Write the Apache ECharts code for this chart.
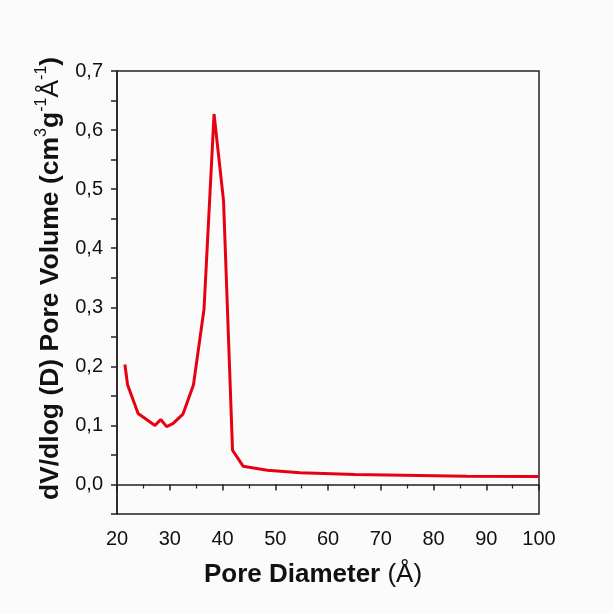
<!DOCTYPE html>
<html>
<head>
<meta charset="utf-8">
<script src="https://cdn.jsdelivr.net/npm/echarts@6/dist/echarts.min.js"></script>
<style>html,body{margin:0;padding:0;background:#fbfbfb;}#c{width:613px;height:614px;}</style>
</head>
<body>
<div id="c"></div>
<script>
const poreDiameter = [21.5, 22.0, 24.0, 27.2, 28.3, 29.4, 30.6, 32.5, 34.5, 36.5, 38.4, 40.2, 41.9, 43.9, 48.5, 54.7, 65.1, 86.3, 100.0];
const poreVolume   = [0.203, 0.169, 0.120, 0.100, 0.110, 0.098, 0.103, 0.119, 0.169, 0.297, 0.627, 0.480, 0.058, 0.031, 0.024, 0.020, 0.017, 0.014, 0.0136];
const xTicks = [20, 30, 40, 50, 60, 70, 80, 90, 100];
const yTicks = [0.0, 0.1, 0.2, 0.3, 0.4, 0.5, 0.6, 0.7];

const chart = echarts.init(document.getElementById('c'), null, {renderer: 'canvas'});
const font = 'Liberation Sans, Arial, sans-serif';
chart.setOption({
  backgroundColor: '#fbfbfb',
  animation: false,
  grid: {left: 117, right: 74, top: 71, bottom: 100, show: true, borderColor: '#222', borderWidth: 1.5, backgroundColor: 'transparent'},
  xAxis: {
    type: 'value', min: 20, max: 100, interval: 10,
    axisLine: {lineStyle: {color: '#222', width: 1.5}},
    axisTick: {length: 6, inside: false, lineStyle: {color: '#222', width: 1.5}},
    minorTick: {show: true, splitNumber: 2, length: 4, lineStyle: {color: '#222', width: 1.2}},
    splitLine: {show: false},
    axisLabel: {color: '#111', fontFamily: font, fontSize: 20, margin: 15,
      formatter: v => xTicks.includes(v) ? String(v) : ''},
    name: '{b|Pore Diameter }{n|(Å)}',
    nameLocation: 'middle', nameGap: 47,
    nameTextStyle: {padding: [0, 30, 0, 0], rich: {
      b: {fontFamily: font, fontWeight: 'bold', fontSize: 26, color: '#111', lineHeight: 28},
      n: {fontFamily: font, fontWeight: 'normal', fontSize: 26, color: '#111', lineHeight: 28}
    }}
  },
  yAxis: {
    type: 'value', min: -0.05, max: 0.7, interval: 0.05,
    axisLine: {lineStyle: {color: '#222', width: 1.5}},
    axisTick: {length: 6, lineStyle: {color: '#222', width: 1.5}},
    splitLine: {show: false},
    axisLabel: {color: '#111', fontFamily: font, fontSize: 20, margin: 14,
      formatter: v => {
        const r = Math.round(v * 100) / 100;
        const hit = yTicks.find(t => Math.abs(t - r) < 1e-9);
        return hit !== undefined ? hit.toFixed(1).replace('.', ',') : '';
      }},
    name: '{b|dV/dlog (D) Pore Volume (cm}{s|3}{b|g}{s|-1}{n|Å}{s|-1}{b|)}',
    nameLocation: 'middle', nameGap: 50, nameRotate: 90,
    nameTextStyle: {padding: [0, 0, 0, 28], rich: {
      b: {fontFamily: font, fontWeight: 'bold', fontSize: 26.5, color: '#111', lineHeight: 31, verticalAlign: 'bottom'},
      n: {fontFamily: font, fontWeight: 'normal', fontSize: 26.5, color: '#111', lineHeight: 31, verticalAlign: 'bottom'},
      s: {fontFamily: font, fontWeight: 'normal', fontSize: 16, color: '#111', lineHeight: 31, verticalAlign: 'top'}
    }}
  },
  series: [{
    type: 'line',
    data: poreDiameter.map((x, i) => [x, poreVolume[i]]),
    showSymbol: false,
    lineStyle: {color: '#e60012', width: 3},
    itemStyle: {color: '#e60012'}
  }]
});
</script>
</body>
</html>
